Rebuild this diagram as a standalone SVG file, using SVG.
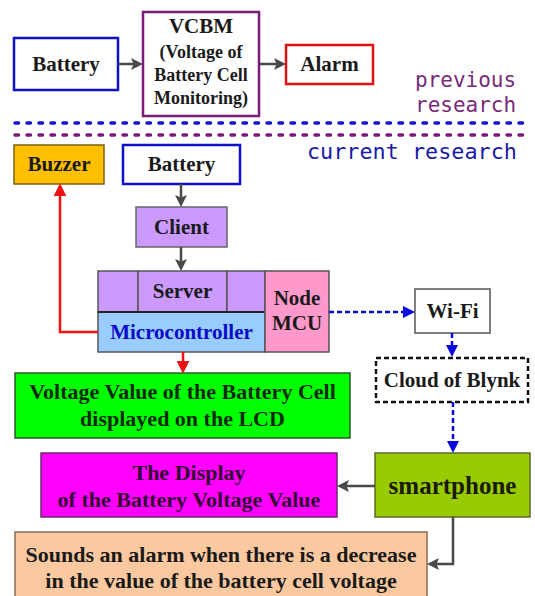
<svg xmlns="http://www.w3.org/2000/svg" width="535" height="596" viewBox="0 0 535 596">
<style>
.t{font-family:"Liberation Serif","Times New Roman",serif;font-weight:bold;font-size:21px;text-anchor:middle;fill:#1a1a1a}
.s{font-size:18px}
.m{font-family:"DejaVu Sans Mono",monospace;font-size:21px}
.box{stroke-width:1.5}
.gray{stroke:#4a4a4a;stroke-width:2.5;fill:none}
.red{stroke:#ee1111;stroke-width:2.5;fill:none}
.blue{stroke:#0a0ae0;stroke-width:2.5;fill:none;stroke-dasharray:5 3}
</style>
<defs>
<marker id="ag" viewBox="0 0 12 12" refX="4" refY="6" markerWidth="12" markerHeight="12" markerUnits="userSpaceOnUse" orient="auto"><path d="M0,0 L12,6 L0,12 L2.5,6 z" fill="#4a4a4a"/></marker>
<marker id="ar" viewBox="0 0 12 12" refX="4" refY="6" markerWidth="13" markerHeight="13" markerUnits="userSpaceOnUse" orient="auto"><path d="M0,0 L12,6 L0,12 z" fill="#ee1111"/></marker>
<marker id="ab" viewBox="0 0 12 12" refX="4" refY="6" markerWidth="12" markerHeight="12" markerUnits="userSpaceOnUse" orient="auto"><path d="M0,0 L12,6 L0,12 z" fill="#0a0ae0"/></marker>
</defs>
<rect width="535" height="596" fill="#ffffff"/>

<g id="battery-top"><rect x="14" y="38" width="104" height="52" fill="#fff" stroke="#1010c8" stroke-width="2.5"/><text class="t" x="66" y="71">Battery</text></g>
<g id="vcbm"><rect x="143" y="12" width="116" height="104" fill="#fff" stroke="#7a1a7a" stroke-width="2.5"/>
<text class="t" x="201" y="33">VCBM</text>
<text class="t s" x="201" y="58">(Voltage of</text>
<text class="t s" x="201" y="81">Battery Cell</text>
<text class="t s" x="201" y="104">Monitoring)</text></g>
<g id="alarm"><rect x="286" y="45" width="87" height="39" fill="#fff" stroke="#dd1111" stroke-width="2.5"/><text class="t" x="329.5" y="71">Alarm</text></g>

<g id="labels">
<text class="m" x="415" y="87" fill="#7a2a7a">previous</text>
<text class="m" x="415" y="112" fill="#7a2a7a">research</text>
<text class="m" x="307" y="159" fill="#1a1aa8" style="font-size:21.8px">current research</text>
<line x1="15" y1="123" x2="530" y2="123" stroke="#1414d0" stroke-width="3.5" stroke-linecap="round" stroke-dasharray="3.5 8.5"/>
<line x1="15" y1="135" x2="530" y2="135" stroke="#7a1a7a" stroke-width="3.5" stroke-linecap="round" stroke-dasharray="3.5 8.5"/>
</g>

<g id="buzzer"><rect x="14" y="145" width="90" height="39" fill="#ffc000" stroke="#7a6010" class="box"/><text class="t" x="59" y="171">Buzzer</text></g>
<g id="battery"><rect x="123" y="145" width="117" height="39" fill="#fff" stroke="#1010c8" stroke-width="2.5"/><text class="t" x="181.5" y="171">Battery</text></g>
<g id="client"><rect x="136" y="207" width="91" height="40" fill="#cc99ff" stroke="#666" class="box"/><text class="t" x="181.5" y="234">Client</text></g>
<g id="server">
<rect x="98" y="271" width="40" height="41" fill="#cc99ff" stroke="#555" class="box"/>
<rect x="138" y="271" width="89" height="41" fill="#cc99ff" stroke="#555" class="box"/>
<rect x="227" y="271" width="38" height="41" fill="#cc99ff" stroke="#555" class="box"/>
<text class="t" x="182.5" y="298">Server</text></g>
<g id="microcontroller"><rect x="98" y="312" width="167" height="40" fill="#99ccff" stroke="#555" class="box"/><line x1="98" y1="312" x2="265" y2="312" stroke="#222" stroke-width="2"/><text class="t" x="181.5" y="339" style="fill:#0a0ac8">Microcontroller</text></g>
<g id="nodemcu"><rect x="265" y="271" width="64" height="81" fill="#ff99cc" stroke="#555" class="box"/><text class="t" x="297" y="305">Node</text><text class="t" x="297" y="330">MCU</text></g>
<g id="wifi"><rect x="415" y="289" width="75" height="44" fill="#fff" stroke="#555" class="box"/><text class="t" x="452.5" y="318">Wi-Fi</text></g>
<g id="cloud"><rect x="376" y="358" width="152" height="44" fill="#fff" stroke="#111" stroke-width="2.5" stroke-dasharray="5 3"/><text class="t" x="452" y="387">Cloud of Blynk</text></g>
<g id="lcd"><rect x="15" y="373" width="335" height="65" fill="#00ff00" stroke="#2a5a2a" class="box"/><text class="t" x="182.5" y="399" style="font-size:22px;fill:#0d2a0d">Voltage Value of the Battery Cell</text><text class="t" x="182.5" y="426" style="font-size:22px;fill:#0d2a0d">displayed on the LCD</text></g>
<g id="display"><rect x="41" y="453" width="296" height="64" fill="#ff00ff" stroke="#6a2a6a" class="box"/><text class="t" x="189" y="480" style="font-size:22px;fill:#330033">The Display</text><text class="t" x="189" y="507" style="font-size:22px;fill:#330033">of the Battery Voltage Value</text></g>
<g id="smartphone"><rect x="375" y="453" width="155" height="64" fill="#99cc00" stroke="#5a6a2a" class="box"/><text class="t" x="452.5" y="494" style="font-size:25px;fill:#1a1a05">smartphone</text></g>
<g id="sound"><rect x="15" y="532" width="412" height="66" fill="#fbc9a0" stroke="#8a6a50" class="box"/><text class="t" x="221" y="562" style="font-size:22px">Sounds an alarm when there is a decrease</text><text class="t" x="221" y="588" style="font-size:22px">in the value of the battery cell voltage</text></g>

<g id="connectors">
<line class="gray" x1="118" y1="64" x2="135" y2="64" marker-end="url(#ag)"/>
<line class="gray" x1="259" y1="64" x2="278" y2="64" marker-end="url(#ag)"/>
<line class="gray" x1="181" y1="184" x2="181" y2="199" marker-end="url(#ag)"/>
<line class="gray" x1="181" y1="247" x2="181" y2="263" marker-end="url(#ag)"/>
<line class="gray" x1="375" y1="486" x2="345" y2="486" marker-end="url(#ag)"/>
<path class="gray" d="M453,517 V564 H435" marker-end="url(#ag)"/>
<line class="red" x1="183" y1="352" x2="183" y2="365" marker-end="url(#ar)"/>
<path class="red" d="M98,332 H60 V192" marker-end="url(#ar)"/>
<line class="blue" x1="329" y1="312" x2="407" y2="312" marker-end="url(#ab)"/>
<line class="blue" x1="452" y1="333" x2="452" y2="349" marker-end="url(#ab)"/>
<line class="blue" x1="453" y1="402" x2="453" y2="445" marker-end="url(#ab)"/>
</g>
</svg>
